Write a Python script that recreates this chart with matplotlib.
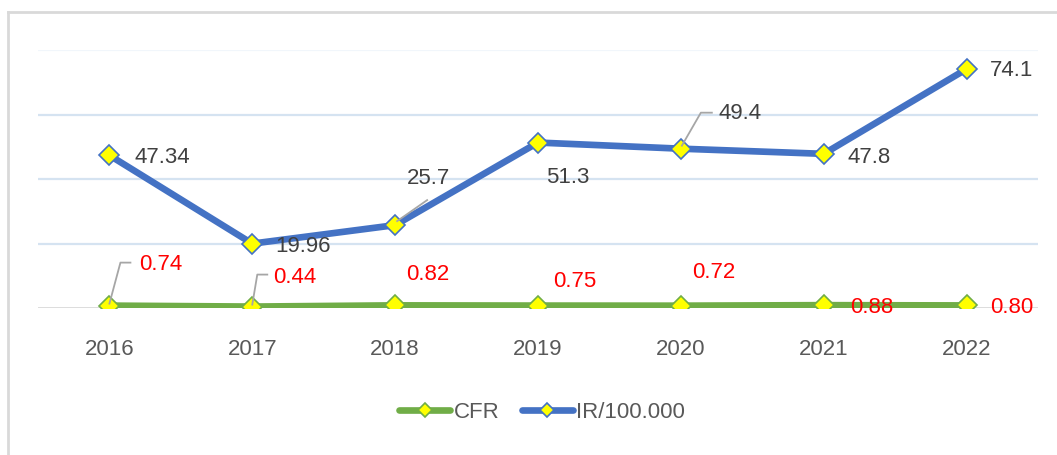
import matplotlib.pyplot as plt
from matplotlib.lines import Line2D
from matplotlib.transforms import IdentityTransform

plt.rcParams['font.family'] = ['Liberation Sans', 'DejaVu Sans']

years = ['2016', '2017', '2018', '2019', '2020', '2021', '2022']
cfr = [0.74, 0.44, 0.82, 0.75, 0.72, 0.88, 0.80]
ir = [47.34, 19.96, 25.7, 51.3, 49.4, 47.8, 74.1]
cfr_labels = ['0.74', '0.44', '0.82', '0.75', '0.72', '0.88', '0.80']
ir_labels = ['47.34', '19.96', '25.7', '51.3', '49.4', '47.8', '74.1']

# label offsets in pixels from the marker (dx, dy), left aligned, centred vertically
ir_off = [(25, -2), (23, -3), (12, 47), (8, -35), (38, 35), (24, -4), (23, -1)]
cfr_off = [(30, 41), (21, 29), (11, 31), (15, 24), (11, 33), (26, -2), (24, -2)]
# leader lines: index -> vertices as pixel offsets
ir_leaders = {2: [(2, 4), (32, 25)], 4: [(1, 3), (20, 36), (31, 36)]}
cfr_leaders = {0: [(0, 2), (11, 43), (21, 43)], 1: [(0, 2), (5, 32), (15, 32)]}

FS = 16

fig = plt.figure(figsize=(10.57, 4.55), dpi=100)
ax = fig.add_axes([38 / 1057, 147 / 455, 1000 / 1057, 258 / 455])

x = list(range(len(years)))
ax.set_xlim(-0.5, len(years) - 0.5)
ax.set_ylim(0, 80)

# gridlines
for g in [20, 40, 60]:
    ax.axhline(g, color='#D5E3F1', lw=1.6, zorder=0)
ax.axhline(80, color='#F1F6FB', lw=1.6, zorder=0)
ax.axhline(0, color='#D9D9D9', lw=2, zorder=1)

ax.plot(x, cfr, color='#70AD47', lw=4.8, marker='D', markersize=10,
        markerfacecolor='#FFFF00', markeredgecolor='#70AD47', markeredgewidth=1.2,
        solid_capstyle='round', label='CFR', zorder=3)
ax.plot(x, ir, color='#4472C4', lw=4.8, marker='D', markersize=10,
        markerfacecolor='#FFFF00', markeredgecolor='#4472C4', markeredgewidth=1.2,
        solid_capstyle='round', label='IR/100.000', zorder=3)

for sp in ax.spines.values():
    sp.set_visible(False)
ax.set_yticks([])
ax.set_xticks(x)
ax.set_xticklabels(years, fontsize=FS, color='#595959')
ax.tick_params(axis='x', length=0, pad=22)


def leader(xi, yi, verts):
    px, py = ax.transData.transform((xi, yi))
    fig.add_artist(Line2D([px + dx for dx, dy in verts], [py + dy for dx, dy in verts],
                          transform=IdentityTransform(), color='#A6A6A6', lw=1.3, zorder=4))


for i in x:
    ax.annotate(ir_labels[i], (i, ir[i]), xytext=ir_off[i], textcoords='offset pixels',
                ha='left', va='center', fontsize=FS, color='#404040', zorder=5)
    ax.annotate(cfr_labels[i], (i, cfr[i]), xytext=cfr_off[i], textcoords='offset pixels',
                ha='left', va='center', fontsize=FS, color='#FF0000', zorder=5)

for i, v in ir_leaders.items():
    leader(i, ir[i], v)
for i, v in cfr_leaders.items():
    leader(i, cfr[i], v)

leg = fig.legend(loc='center', bbox_to_anchor=(542 / 1057, 1 - 412 / 455), ncol=2,
                 frameon=False, fontsize=FS, handlelength=2.3, handletextpad=0.15,
                 columnspacing=1.0, labelcolor='#595959', markerscale=0.7)

# chart frame (top and left edges)
fig.add_artist(Line2D([8 / 1057, 1], [1 - 12 / 455, 1 - 12 / 455], transform=fig.transFigure,
                      color='#D9D9D9', lw=2))
fig.add_artist(Line2D([8 / 1057, 8 / 1057], [0, 1 - 12 / 455], transform=fig.transFigure,
                      color='#D9D9D9', lw=2))

fig.savefig('out.png', dpi=100)
